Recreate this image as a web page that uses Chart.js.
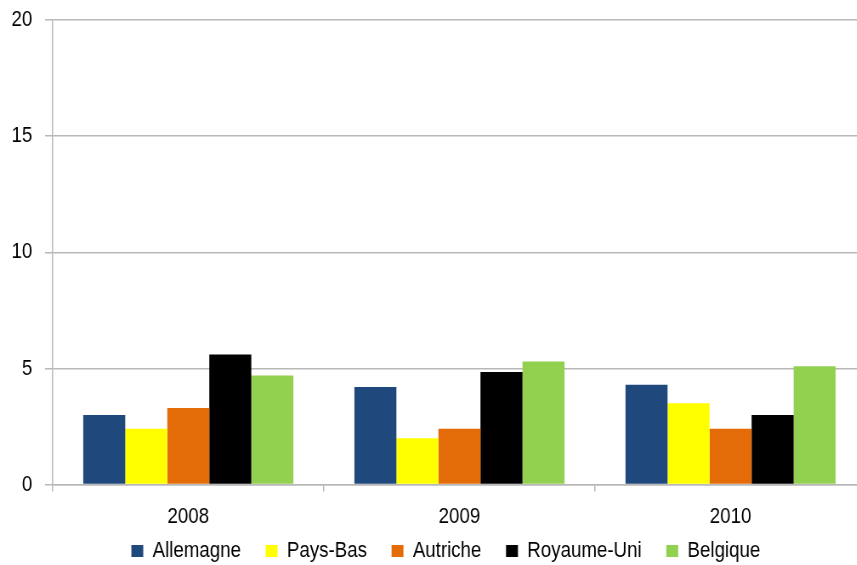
<!DOCTYPE html>
<html>
<head>
<meta charset="utf-8">
<script src="https://cdn.jsdelivr.net/npm/chart.js@4.4.1/dist/chart.umd.min.js"></script>
<style>
    html, body { margin: 0; padding: 0; background: #fff; overflow: hidden; }
    /* narrow lettering: draw wide, then squeeze horizontally */
    #wrap { width: 1050px; height: 565px; transform: scaleX(0.85); transform-origin: 0 0; }
</style>
</head>
<body>
<div id="wrap"><canvas id="barChart"></canvas></div>
<script>
const years = ['2008', '2009', '2010'];
const countries = ['Allemagne', 'Pays-Bas', 'Autriche', 'Royaume-Uni', 'Belgique'];
const allemagne = [3.0, 4.2, 4.3];
const paysBas = [2.4, 2.0, 3.5];
const autriche = [3.3, 2.4, 2.4];
const royaumeUni = [5.6, 4.85, 3.0];
const belgique = [4.7, 5.3, 5.1];
const yTicks = [0, 5, 10, 15, 20];

const colors = ['#1F497D', '#FFFF00', '#E36C09', '#000000', '#92D050'];
const series = [allemagne, paysBas, autriche, royaumeUni, belgique];
const fontFamily = "'Liberation Sans', Arial, sans-serif";
const gridColor = '#b8b8b8';

// nudge the legend box after layout so it sits close under the year labels
const legendShift = {
    id: 'legendShift',
    afterLayout(chart, args, opts) {
        const legend = chart.legend;
        if (!legend) return;
        legend.left += opts.dx;
        legend.right += opts.dx;
        legend.top += opts.dy;
        legend.bottom += opts.dy;
    }
};

document.addEventListener('DOMContentLoaded', function() {
    const ctx = document.getElementById('barChart').getContext('2d');
    new Chart(ctx, {
        type: 'bar',
        data: {
            labels: years,
            datasets: countries.map((name, i) => ({
                label: name,
                data: series[i],
                backgroundColor: colors[i],
                borderWidth: 0,
                categoryPercentage: 0.775,
                barPercentage: 1.0
            }))
        },
        plugins: [legendShift],
        options: {
            responsive: true,
            maintainAspectRatio: false,
            animation: false,
            layout: {
                padding: { left: 12, right: 31, top: 20, bottom: -38 }
            },
            plugins: {
                tooltip: { enabled: false },
                legendShift: { dx: 9, dy: -31 },
                legend: {
                    position: 'bottom',
                    labels: {
                        color: '#000',
                        font: { family: fontFamily, size: 22 },
                        boxWidth: 14,
                        boxHeight: 12,
                        padding: 29
                    }
                }
            },
            scales: {
                x: {
                    border: { color: gridColor, width: 1.5 },
                    grid: {
                        offset: true,
                        drawOnChartArea: false,
                        drawTicks: true,
                        tickLength: 7,
                        color: gridColor,
                        lineWidth: 1.5
                    },
                    ticks: {
                        color: '#000',
                        padding: 12,
                        font: { family: fontFamily, size: 22 }
                    }
                },
                y: {
                    min: yTicks[0],
                    max: yTicks[yTicks.length - 1],
                    border: { color: gridColor, width: 1.5 },
                    grid: {
                        color: gridColor,
                        lineWidth: 1.5,
                        tickLength: 9
                    },
                    afterBuildTicks: function(axis) {
                        axis.ticks = yTicks.map(v => ({ value: v }));
                    },
                    ticks: {
                        color: '#000',
                        padding: 15,
                        font: { family: fontFamily, size: 22 }
                    },
                    afterFit: function(axis) {
                        axis.width = 50;
                        axis.paddingTop = 0;
                        axis.paddingBottom = 0;
                    }
                }
            }
        }
    });
});
</script>
</body>
</html>
